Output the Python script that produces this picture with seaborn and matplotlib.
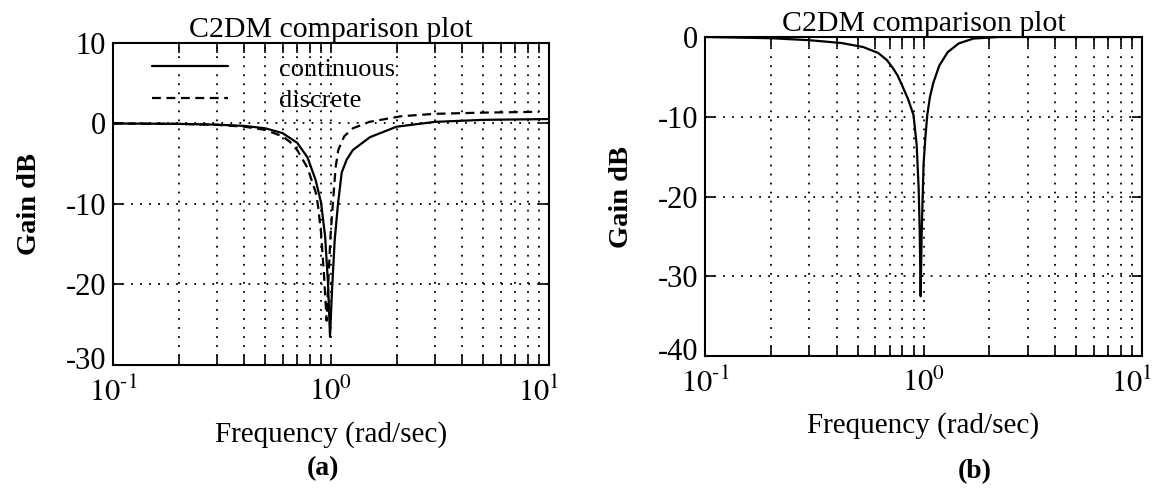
import numpy as np
import pandas as pd
import seaborn as sns
import matplotlib.transforms as mtransforms
from matplotlib import pyplot as plt
from matplotlib.ticker import LogLocator, NullFormatter, FixedLocator

sns.set_style('ticks')
plt.rcParams['font.family'] = ['Liberation Serif', 'DejaVu Serif']
plt.rcParams['mathtext.fontset'] = 'stix'
plt.rcParams['text.color'] = 'black'
plt.rcParams['axes.labelcolor'] = 'black'
plt.rcParams['xtick.color'] = 'black'
plt.rcParams['ytick.color'] = 'black'

# (a) continuous vs discrete notch response
w_cont = [0.1, 0.2, 0.3, 0.4, 0.5, 0.6, 0.7, 0.78, 0.85, 0.9, 0.94, 0.97, 0.99,
          1.01, 1.04, 1.077, 1.12, 1.18, 1.26, 1.51, 2.0, 3.0, 5.0, 10.0]
g_cont = [0.0, -0.05, -0.15, -0.3, -0.6, -1.2, -2.4, -4.2, -7.0, -9.8, -14.0, -20.0, -26.5,
          -21.0, -14.5, -10.0, -6.1, -4.5, -3.3, -1.7, -0.4, 0.2, 0.45, 0.55]

w_disc = [0.1, 0.2, 0.3, 0.4, 0.5, 0.6, 0.65, 0.7, 0.78, 0.85, 0.87, 0.9, 0.93, 0.955,
          0.975, 0.995, 1.02, 1.05, 1.08, 1.15, 1.26, 1.5, 2.1, 3.0, 5.0, 9.0]
g_disc = [0.0, -0.05, -0.17, -0.4, -0.8, -1.6, -2.3, -3.3, -5.5, -8.5, -10.0, -13.5, -19.0, -24.5,
          -19.0, -14.0, -10.0, -5.5, -3.3, -1.6, -0.6, 0.2, 0.9, 1.2, 1.35, 1.45]

# (b) single response
w_b = [0.1, 0.2, 0.3, 0.42, 0.53, 0.62, 0.68, 0.72, 0.76, 0.79, 0.85, 0.9, 0.93, 0.95, 0.96, 0.97,
       0.98, 1.0, 1.02, 1.04, 1.07, 1.11, 1.18, 1.29, 1.45, 1.69, 2.2, 3.0, 10.0]
g_b = [0.0, -0.15, -0.4, -0.75, -1.26, -2.0, -2.9, -3.8, -4.8, -5.8, -7.8, -9.8, -13.5, -19.0, -24.0, -32.5,
       -25.0, -16.0, -12.5, -9.8, -7.5, -5.7, -3.6, -1.9, -0.8, -0.2, 0.0, 0.0, 0.0]

df_a = pd.concat([
    pd.DataFrame({'w': w_cont, 'gain': g_cont, 'kind': 'continuous'}),
    pd.DataFrame({'w': w_disc, 'gain': g_disc, 'kind': 'discrete'}),
])
df_b = pd.DataFrame({'w': w_b, 'gain': g_b})

fig = plt.figure(figsize=(11.55, 4.98), dpi=100)
ax1 = fig.add_axes([0.0978, 0.2671, 0.3775, 0.6466])
ax2 = fig.add_axes([0.6104, 0.2851, 0.3784, 0.6406])

sns.lineplot(data=df_a, x='w', y='gain', style='kind', color='black', linewidth=1.6,
             dashes={'continuous': '', 'discrete': (4, 2.5)}, sort=False, ax=ax1)
sns.lineplot(data=df_b, x='w', y='gain', color='black', linewidth=1.6, sort=False, ax=ax2)

grid_ls = (0, (1, 4))
for ax, ylim, yt, tpad in [(ax1, (-30, 10), [-30, -20, -10, 0, 10], 4),
                           (ax2, (-40, 0), [-40, -30, -20, -10, 0], 0)]:
    ax.set_xscale('log')
    ax.set_xlim(0.1, 10)
    ax.set_ylim(*ylim)
    ax.set_yticks(yt)
    ax.set_yticklabels([str(v) for v in yt])
    ax.xaxis.set_major_locator(FixedLocator([0.1, 1, 10]))
    ax.set_xticklabels([r'$10^{\text{-}1}$', r'$10^{0}$', r'$10^{1}$'])
    ax.xaxis.set_minor_locator(LogLocator(base=10, subs=np.arange(2, 10)))
    ax.xaxis.set_minor_formatter(NullFormatter())
    ax.grid(True, which='major', color='black', linestyle=grid_ls, linewidth=1.3)
    ax.grid(True, which='minor', axis='x', color='black', linestyle=grid_ls, linewidth=1.3)
    ax.tick_params(which='both', direction='in', top=True, right=True, labelsize=22,
                   color='black', labelcolor='black', width=1.2)
    ax.tick_params(which='major', length=7)
    ax.tick_params(axis='x', which='major', pad=9)
    ax.tick_params(axis='y', which='major', pad=5)
    ax.tick_params(which='minor', length=7)
    for s in ax.spines.values():
        s.set_linewidth(1.5)
        s.set_color('black')
    ax.set_title('C2DM comparison plot', fontsize=21.5, pad=tpad, color='black')
    ax.set_xlabel('Frequency (rad/sec)', fontsize=21, labelpad=10)
    ax.set_ylabel('Gain dB', fontsize=20.5, fontweight='bold', labelpad=17)

    # bottom y label sits a little higher, last x label a little left, as in the print
    ylabs = ax.get_yticklabels()
    ylabs[0].set_transform(ylabs[0].get_transform() +
                           mtransforms.ScaledTranslation(0, 7 / 100, fig.dpi_scale_trans))
    xlabs = ax.get_xticklabels()
    xlabs[-1].set_transform(xlabs[-1].get_transform() +
                            mtransforms.ScaledTranslation(-10 / 100, 0, fig.dpi_scale_trans))

leg = ax1.legend(loc='upper left', bbox_to_anchor=(0.035, 1.03), frameon=False, fontsize=19,
                 handlelength=2.9, handletextpad=1.9, labelspacing=0.3, title=None)
for t in leg.get_texts():
    t.set_color('black')

fig.text(0.2797, 0.06, '(a)', fontsize=20, fontweight='bold', ha='center', va='center')
fig.text(0.844, 0.052, '(b)', fontsize=20, fontweight='bold', ha='center', va='center')

plt.savefig('out.png', dpi=100)
